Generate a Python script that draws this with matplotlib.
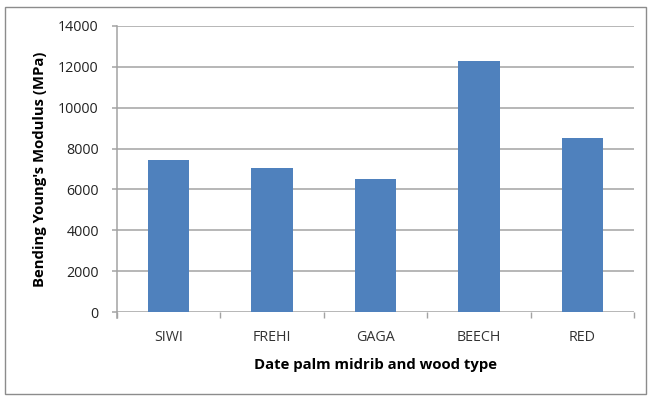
import matplotlib
matplotlib.use("Agg")
import matplotlib.pyplot as plt
from matplotlib.patches import Rectangle

categories = ["SIWI", "FREHI", "GAGA", "BEECH", "RED"]
modulus = [7420, 7070, 6500, 12300, 8500]
y_ticks = [0, 2000, 4000, 6000, 8000, 10000, 12000, 14000]

plt.rcParams["font.family"] = ["Open Sans", "DejaVu Sans"]

fig = plt.figure(figsize=(6.48, 3.97), dpi=100)
ax = fig.add_axes([117 / 648, 1 - 312 / 397, 517 / 648, 286 / 397])

# outer chart border
fig.patches.append(Rectangle((5 / 648, 3 / 397), 641 / 648, 387 / 397,
                             transform=fig.transFigure, fill=False,
                             edgecolor="#8c8c8c", linewidth=1.0))

grid_color = "#a3a3a3"

x = range(len(categories))
ax.bar(x, modulus, width=0.4, color="#4F81BD", zorder=3)

ax.set_xlim(-0.5, len(categories) - 0.5)
ax.set_ylim(0, 14000)
ax.set_yticks(y_ticks)
ax.set_yticklabels([str(v) for v in y_ticks], fontsize=10.3, color="#222222")
ax.yaxis.grid(True, color=grid_color, linewidth=1.1, zorder=0)

ax.set_xticks([i - 0.5 for i in range(len(categories) + 1)], minor=False)
ax.set_xticklabels([""] * (len(categories) + 1))
ax.set_xticks(list(x), minor=True)
ax.set_xticklabels(categories, minor=True, fontsize=10.3, color="#333333")
ax.tick_params(axis="x", which="major", length=4, color=grid_color, width=1)
ax.tick_params(axis="x", which="minor", length=0, pad=13)
ax.tick_params(axis="y", length=3.6, color=grid_color, width=1.1, pad=9.5)

for side in ["top", "right", "bottom"]:
    ax.spines[side].set_visible(False)
ax.spines["left"].set_color(grid_color)
ax.spines["left"].set_linewidth(1.1)
ax.spines["left"].set_bounds(-300, 14000)

ax.set_xlabel("Date palm midrib and wood type", fontsize=10.7, fontweight="bold",
              labelpad=9)
ax.set_ylabel("Bending Young's Modulus (MPa)", fontsize=10.7, fontweight="bold",
              labelpad=8)

fig.savefig("out.png", dpi=100)
